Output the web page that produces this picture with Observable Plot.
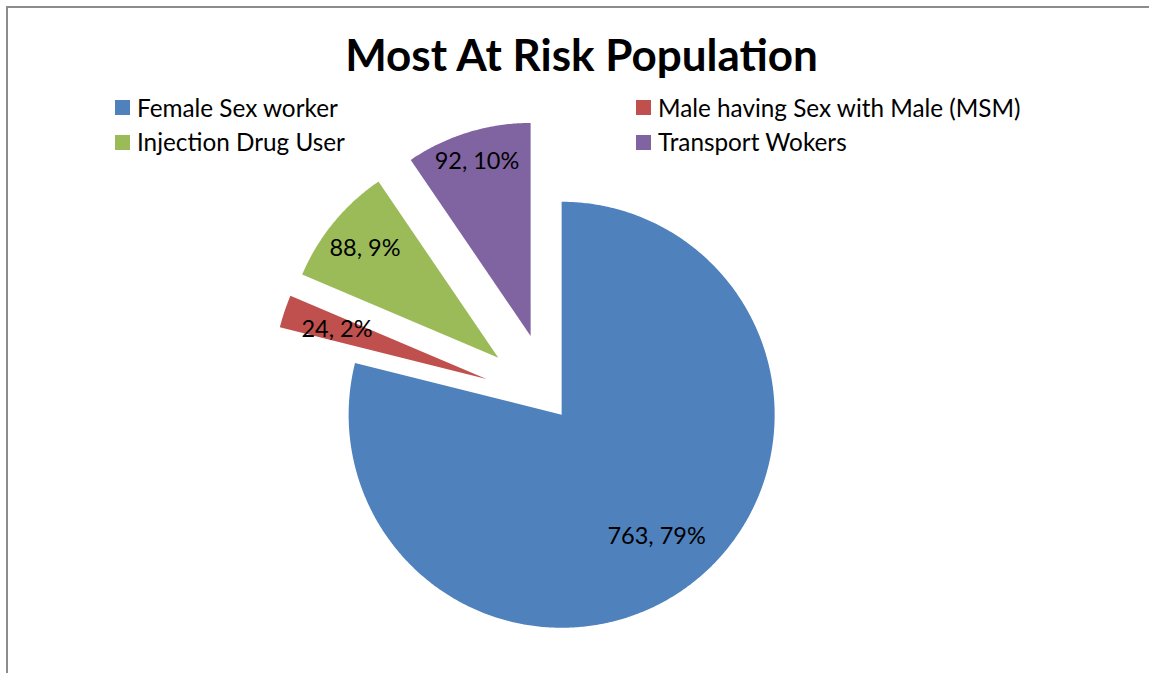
<!DOCTYPE html>
<html>
<head>
<meta charset="utf-8">
<script src="https://cdn.jsdelivr.net/npm/d3@7"></script>
<script src="https://cdn.jsdelivr.net/npm/@observablehq/plot@0.6"></script>
<style>
  html, body { margin: 0; padding: 0; background: #fff; overflow: hidden; }
  #wrap { position: relative; width: 1149px; height: 673px; overflow: hidden; font-family: Lato, "Open Sans", sans-serif; }
  #frame { position: absolute; left: 6px; top: 6px; width: 1200px; height: 720px; border-left: 2px solid #8c8c8c; border-top: 2px solid #8c8c8c; }
  #chart { position: absolute; left: 0; top: 0; }
  #title { position: absolute; left: 0; width: 1163px; top: 28px; text-align: center; font-weight: bold; font-size: 44px; color: #000; line-height: 53px; }
  .leg { position: absolute; font-size: 24.3px; line-height: 28px; color: #000; white-space: nowrap; }
  .sw { position: absolute; width: 15px; height: 15px; }
</style>
</head>
<body>
<div id="wrap">
  <div id="frame"></div>
  <div id="chart"></div>
  <div id="title">Most At Risk Population</div>
  <div id="legend"></div>
</div>
<script>
// ---- data ----
const categories = ["Female Sex worker", "Male having Sex with Male (MSM)", "Injection Drug User", "Transport Wokers"];
const values = [763, 24, 88, 92];
const colors = ["#4F81BD", "#C0504D", "#9BBB59", "#8064A2"];

// ---- layout (styling, not data) ----
const W = 1149, H = 673;
const R = 213;                 // pie radius in px
const CX = 550, CY = 400;      // pie centre in px
const explode = [0.085, 0.317, 0.317, 0.317];     // explosion as fraction of radius
const labelRadius = [0.725, 0.74, 0.81, 0.855];   // label distance from slice tip, fraction of radius

const total = d3.sum(values);
const arcs = d3.pie().sort(null).value(d => d)(values);

const slicePts = [];
const labels = [];
arcs.forEach((a, i) => {
  const mid = (a.startAngle + a.endAngle) / 2;
  const tx = explode[i] * Math.sin(mid), ty = explode[i] * Math.cos(mid);
  slicePts.push({name: categories[i], x: tx, y: ty});
  const n = Math.max(4, Math.ceil((a.endAngle - a.startAngle) / (Math.PI / 360)));
  for (let k = 0; k <= n; k++) {
    const t = a.startAngle + (a.endAngle - a.startAngle) * k / n;
    slicePts.push({name: categories[i], x: tx + Math.sin(t), y: ty + Math.cos(t)});
  }
  labels.push({
    name: categories[i],
    x: tx + labelRadius[i] * Math.sin(mid),
    y: ty + labelRadius[i] * Math.cos(mid),
    text: `${values[i]}, ${Math.round(values[i] / total * 100)}%`
  });
});

const chart = Plot.plot({
  width: W, height: H,
  margin: 0,
  x: {domain: [-CX / R, (W - CX) / R], range: [0, W], axis: null},
  y: {domain: [CY / R, -(H - CY) / R], range: [0, H], axis: null},
  color: {domain: categories, range: colors},
  style: {background: "transparent", overflow: "visible"},
  marks: [
    Plot.line(slicePts, {x: "x", y: "y", z: "name", fill: "name", stroke: "none", curve: "linear-closed"}),
    Plot.text(labels, {x: "x", y: "y", text: "text", fill: "#000", fontSize: 23.5, fontFamily: "Lato, 'Open Sans', sans-serif"})
  ]
});
document.getElementById("chart").appendChild(chart);

// ---- legend ----
const legendPos = [[137, 107.5], [658, 107.5], [137, 142], [658, 142]];
const legendOrder = [0, 1, 2, 3];
const leg = document.getElementById("legend");
legendOrder.forEach((i, k) => {
  const [lx, ly] = legendPos[k];
  const sw = document.createElement("div");
  sw.className = "sw";
  sw.style.left = (lx - 22) + "px";
  sw.style.top = (ly - 7.5) + "px";
  sw.style.background = colors[i];
  leg.appendChild(sw);
  const t = document.createElement("div");
  t.className = "leg";
  t.style.left = lx + "px";
  t.style.top = (ly - 14) + "px";
  t.textContent = categories[i];
  leg.appendChild(t);
});
</script>
</body>
</html>
